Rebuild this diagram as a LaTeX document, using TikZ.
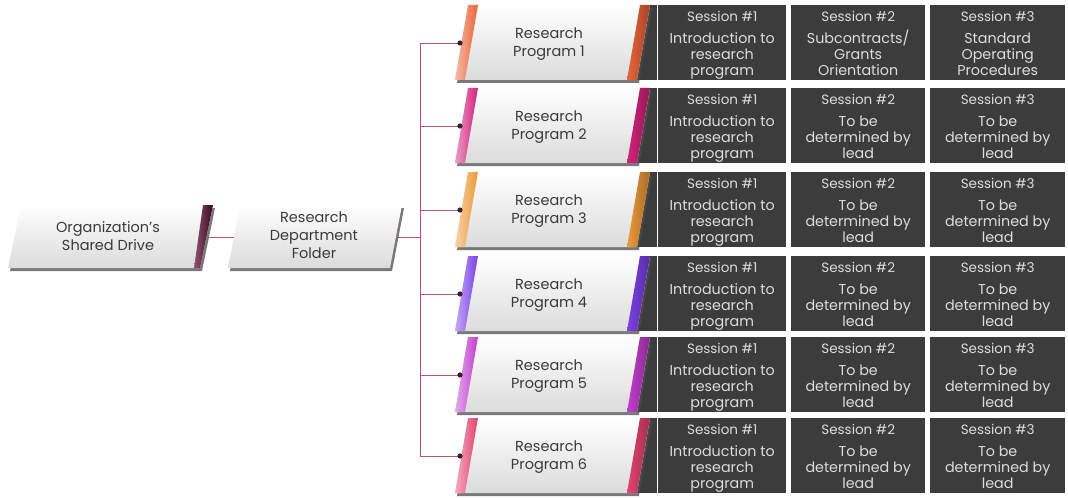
\documentclass[tikz,border=0pt]{standalone}
\usepackage{fontspec}
\setmainfont{Poppins}
\definecolor{sessc}{HTML}{3C3C3C}
\definecolor{sesst}{HTML}{DCDCDC}
\definecolor{connc}{HTML}{B5527E}
\definecolor{dotc}{HTML}{3A1E2C}
\definecolor{txtc}{HTML}{3A3A3A}
\definecolor{maroonc}{HTML}{5E0B33}
\definecolor{c1}{HTML}{E9653A}
\definecolor{c2}{HTML}{D2237C}
\definecolor{c3}{HTML}{EC9A3A}
\definecolor{c4}{HTML}{7B40E6}
\definecolor{c5}{HTML}{C23ECF}
\definecolor{c6}{HTML}{E34470}
\newcommand{\shead}[1]{{\fontsize{13.5}{16}\selectfont Session \##1}}
\begin{document}
\begin{tikzpicture}[x=1pt,y=-1pt,
  conn/.style={draw=connc, line width=0.9pt},
  boxbody/.style={top color=white, bottom color=black!14},
  boxshadow/.style={fill=black!70, opacity=0.75},
  boxtext/.style={text=txtc, align=center, font=\fontsize{14.5}{18}\selectfont, inner sep=0},
  sess/.style={fill=sessc, text=sesst, align=center, inner sep=0, anchor=north west,
    minimum height=75, text height=65, text depth=0, font=\fontsize{14.3}{16}\selectfont},
  dot/.style={fill=dotc}]
\useasboundingbox (0,0) rectangle (1068,500);

% Organization's Shared Drive
\fill[boxshadow] (23,208) -- (215,208) -- (202,271) -- (10,271) -- cycle;
\shade[boxbody] (21,205) -- (213,205) -- (200,268) -- (8,268) -- cycle;
\shade[left color=maroonc!70, right color=maroonc!60!black] (203,205) -- (213,205) -- (200,268) -- (194,268) -- cycle;
\node[boxtext] (org) at (108,236) {Organization’s\\Shared Drive};

% Research Department Folder
\fill[boxshadow] (242,208) -- (404,208) -- (392,271) -- (230,271) -- cycle;
\shade[boxbody] (240,205) -- (402,205) -- (390,268) -- (228,268) -- cycle;
\node[boxtext] (rdf) at (314,235) {Research\\Department\\Folder};

\coordinate (orgout) at (207,237);
\coordinate (rdfin) at (234,237);
\coordinate (rdfout) at (396,237);
\coordinate (tm) at (420,237);
\draw[conn] (orgout) -- (rdfin);
\draw[conn] (rdfout) -- (tm);

% Programs
\foreach \i/\y/\c in {1/5/c1,2/88/c2,3/172/c3,4/256/c4,5/337/c5,6/418/c6} {
  \fill[sessc] (636,\y) rectangle (657,\y+75);
  \fill[boxshadow] (470,\y+3) -- (652,\y+3) -- (639,\y+78) -- (457,\y+78) -- cycle;
  \shade[boxbody] (468,\y) -- (650,\y) -- (637,\y+75) -- (455,\y+75) -- cycle;
  \shade[left color=\c!45!white, right color=\c] (468,\y) -- (478,\y) -- (465,\y+75) -- (455,\y+75) -- cycle;
  \shade[left color=\c, right color=\c!70!black] (640,\y) -- (650,\y) -- (637,\y+75) -- (627,\y+75) -- cycle;
  \node[boxtext] (p\i) at (549,\y+39) {Research\\Program \i};
  \coordinate (pin\i) at (460,\y+38);
  \coordinate (tr\i) at (420,\y+38);
  \draw[conn] (tr\i) -- (pin\i);
  \fill[dot] (pin\i) circle (2.6);
}
\draw[conn] (tr1) -- (tr6);

% Sessions row 1
\node[sess, minimum width=128] (s1a) at (658,5) {\shead{1}\\[6pt]Introduction to\\research\\program};
\node[sess, minimum width=134] (s1b) at (791,5) {\shead{2}\\[6pt]Subcontracts/\\Grants\\Orientation};
\node[sess, minimum width=135] (s1c) at (930,5) {\shead{3}\\[6pt]Standard\\Operating\\Procedures};

% Sessions rows 2-6
\foreach \i/\y in {2/88,3/172,4/256,5/337,6/418} {
  \node[sess, minimum width=128] (s\i a) at (658,\y) {\shead{1}\\[6pt]Introduction to\\research\\program};
  \node[sess, minimum width=134] (s\i b) at (791,\y) {\shead{2}\\[6pt]To be\\determined by\\lead};
  \node[sess, minimum width=135] (s\i c) at (930,\y) {\shead{3}\\[6pt]To be\\determined by\\lead};
}
\end{tikzpicture}
\end{document}
